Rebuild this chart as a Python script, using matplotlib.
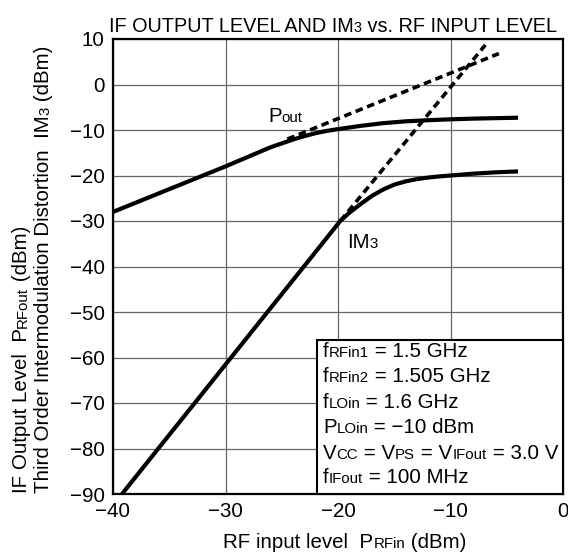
import matplotlib
matplotlib.use("Agg")
import numpy as np
from matplotlib import pyplot as plt
from matplotlib.patches import Rectangle
from matplotlib.transforms import IdentityTransform

plt.rcParams["font.family"] = ["Liberation Sans", "DejaVu Sans"]

# data
pout_x = [-40, -30, -26, -25, -24, -23, -22, -21, -20, -19, -18, -17, -16, -15,
          -14, -12, -10, -8, -6, -4]
pout_y = [-28.0, -18.0, -13.8, -12.95, -12.1, -11.35, -10.7, -10.2, -9.8, -9.45,
          -9.1, -8.8, -8.5, -8.3, -8.1, -7.85, -7.65, -7.5, -7.4, -7.3]

im3_x = [-39.2, -35.97, -32.73, -29.5, -26.27, -23.03, -19.8, -19, -18, -17, -16,
         -15, -14, -13, -12, -11, -10, -8, -6, -4]
im3_y = [-90, -80, -70, -60, -50, -40, -30, -28.2, -26.3, -24.5, -23.1, -22.0,
         -21.3, -20.8, -20.45, -20.2, -20.0, -19.6, -19.3, -19.1]

pout_ext_x = [-24.5, -5.7]
pout_ext_y = [-12.0, 6.8]
im3_ext_x = [-19.8, -6.9]
im3_ext_y = [-30.0, 8.7]

xticks = [-40, -30, -20, -10, 0]
yticks = [10, 0, -10, -20, -30, -40, -50, -60, -70, -80, -90]

# (text, is_subscript) pieces
conditions = [
    [("f", 0), ("RFin1", 1), (" = 1.5 GHz", 0)],
    [("f", 0), ("RFin2", 1), (" = 1.505 GHz", 0)],
    [("f", 0), ("LOin", 1), (" = 1.6 GHz", 0)],
    [("P", 0), ("LOin", 1), (" = \u221210 dBm", 0)],
    [("V", 0), ("CC", 1), (" = V", 0), ("PS", 1), (" = V", 0), ("IFout", 1), (" = 3.0 V", 0)],
    [("f", 0), ("IFout", 1), (" = 100 MHz", 0)],
]
title = [("IF OUTPUT LEVEL AND IM", 0), ("3", 1), (" vs. RF INPUT LEVEL", 0)]
xlabel = [("RF input level  P", 0), ("RFin", 1), (" (dBm)", 0)]
ylabel1 = [("IF Output Level  P", 0), ("RFout", 1), (" (dBm)", 0)]
ylabel2 = [("Third Order Intermodulation Distortion  IM", 0), ("3", 1), (" (dBm)", 0)]

W, H = 568, 556
FS = 14.8
SUB = 10.8

fig = plt.figure(figsize=(W / 100, H / 100), dpi=100)
renderer = fig.canvas.get_renderer()


def seg_width(s, size):
    t1 = fig.text(0, 0, "|" + s + "|", fontsize=size)
    t2 = fig.text(0, 0, "||", fontsize=size)
    w = t1.get_window_extent(renderer).width - t2.get_window_extent(renderer).width
    t1.remove()
    t2.remove()
    return w


def rich_text(x, y_top, pieces, align="left", rotation=0, size=FS, sub=SUB, zorder=5):
    """Draw text pieces on one baseline; subscripts are just smaller text."""
    y = H - y_top
    sizes = [sub if is_sub else size for _, is_sub in pieces]
    widths = [seg_width(s, sz) for (s, _), sz in zip(pieces, sizes)]
    total = sum(widths)
    pos = {"left": 0, "center": -total / 2, "right": -total}[align]
    for (s, _), sz, w in zip(pieces, sizes, widths):
        if rotation == 0:
            fig.text(x + pos, y, s, fontsize=sz, ha="left", va="baseline",
                     transform=IdentityTransform(), zorder=zorder)
        else:
            fig.text(x, y + pos, s, fontsize=sz, ha="left", va="baseline",
                     rotation=90, rotation_mode="anchor",
                     transform=IdentityTransform(), zorder=zorder)
        pos += w


ax = fig.add_axes([113 / W, 1 - 494 / H, 450 / W, 455 / H])

ax.set_xlim(-40, 0)
ax.set_ylim(-90, 10)
ax.set_xticks(xticks)
ax.set_yticks(yticks)
ax.set_xticklabels([str(t).replace("-", "\u2212") for t in xticks])
ax.set_yticklabels([str(t).replace("-", "\u2212") for t in yticks])
ax.tick_params(length=0, labelsize=FS)
ax.tick_params(axis="y", pad=6)
ax.tick_params(axis="x", pad=6)
ax.grid(True, color="#666666", lw=0.9)
for s in ax.spines.values():
    s.set_linewidth(1.6)

ax.plot(pout_x, pout_y, color="black", lw=3.0, solid_capstyle="butt")
ax.plot(im3_x, im3_y, color="black", lw=3.0, solid_capstyle="butt")
ax.plot(pout_ext_x, pout_ext_y, color="black", lw=2.6, ls=(0, (2.1, 1.3)))
ax.plot(im3_ext_x, im3_ext_y, color="black", lw=2.6, ls=(0, (2.1, 1.3)))

# condition box
ax.add_patch(Rectangle((-21.9, -90), 21.9, 33.8, facecolor="white",
                       edgecolor="black", lw=1.5, zorder=3, clip_on=False))

rich_text(268, 122, [("P", 0), ("out", 1)])
rich_text(347, 248, [("IM", 0), ("3", 1)])

baselines = [357, 382, 408, 433, 459, 483]
for pieces, yb in zip(conditions, baselines):
    rich_text(323, yb, pieces)

rich_text(557, 31.5, title, align="right", size=14.3, sub=10.4)
rich_text(345, 548, xlabel, align="center")
rich_text(27, 493, ylabel1, rotation=90)
rich_text(49, 493, ylabel2, rotation=90)

fig.savefig("out.png", dpi=100)
